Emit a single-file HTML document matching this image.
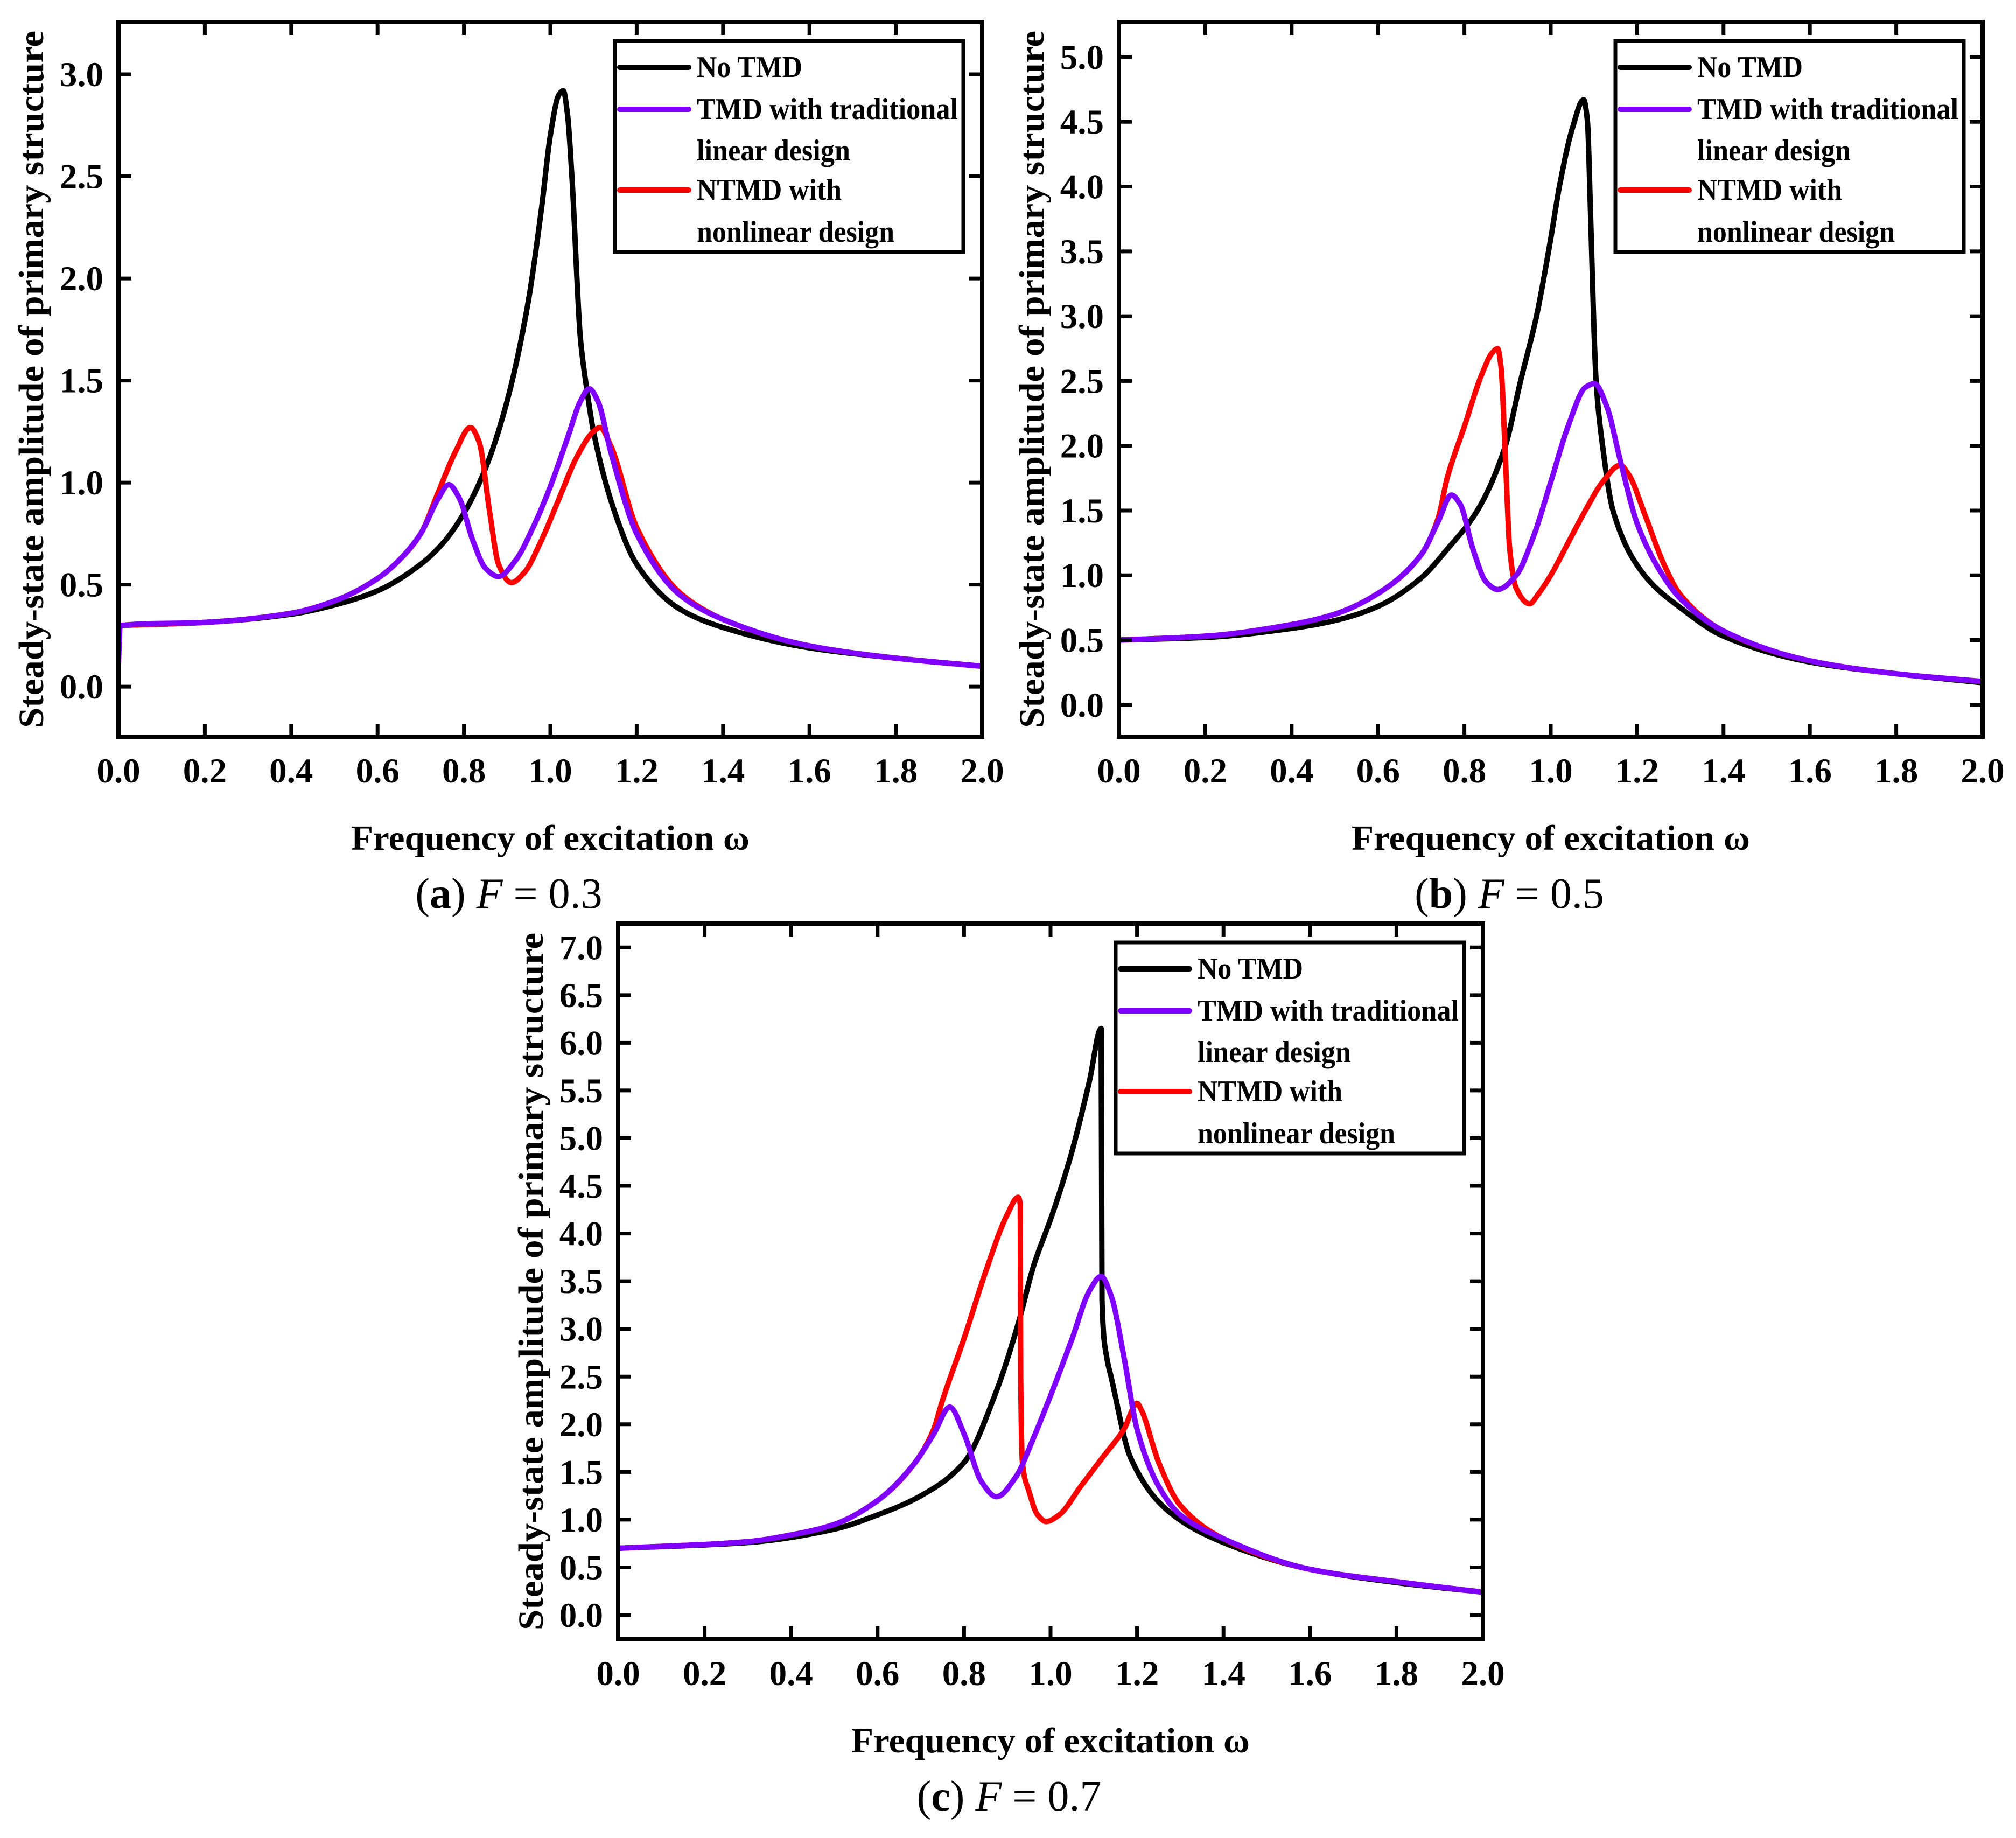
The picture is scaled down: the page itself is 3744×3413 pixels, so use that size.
<!DOCTYPE html>
<html><head><meta charset="utf-8">
<style>
html,body{margin:0;padding:0;background:#fff;}
svg{display:block;}
text{font-family:"Liberation Serif",serif;}
</style></head>
<body>
<svg id="fig" width="3744" height="3413" viewBox="0 0 3744 3413" xmlns="http://www.w3.org/2000/svg"></svg>
<script>
// ---------- Panel (a) F = 0.3 ----------
const aBlackX = [0,0.2,0.4,0.5,0.6,0.7,0.75,0.8,0.85,0.9,0.95,0.98,1.0,1.02,1.03,1.04,1.05,1.07,1.085,1.1,1.15,1.2,1.3,1.4,1.6,1.8,2.0];
const aBlackY = [0.30,0.315,0.355,0.40,0.47,0.60,0.70,0.85,1.07,1.40,1.90,2.35,2.70,2.90,2.92,2.80,2.50,1.70,1.45,1.25,0.85,0.60,0.38,0.29,0.19,0.14,0.10];
const aPurpleX = [0,0.004,0.2,0.4,0.5,0.6,0.65,0.7,0.74,0.765,0.79,0.82,0.85,0.88,0.92,0.96,1.0,1.04,1.07,1.09,1.11,1.14,1.2,1.3,1.4,1.6,1.8,2.0];
const aPurpleY = [0.12,0.30,0.315,0.36,0.42,0.53,0.62,0.75,0.92,0.99,0.92,0.72,0.58,0.54,0.62,0.78,0.98,1.22,1.40,1.46,1.40,1.15,0.75,0.45,0.33,0.20,0.14,0.10];
const aRedX = [0,0.2,0.4,0.5,0.6,0.65,0.7,0.74,0.78,0.815,0.835,0.86,0.88,0.91,0.94,0.98,1.02,1.06,1.1,1.115,1.14,1.2,1.3,1.4,1.6,1.8,2.0];
const aRedY = [0.30,0.315,0.36,0.42,0.53,0.62,0.75,0.95,1.15,1.27,1.20,0.85,0.60,0.51,0.56,0.72,0.92,1.12,1.25,1.27,1.18,0.78,0.46,0.33,0.20,0.14,0.10];
const aYTicks = [0,0.5,1.0,1.5,2.0,2.5,3.0];
const aYLabels = ["0.0","0.5","1.0","1.5","2.0","2.5","3.0"];

// ---------- Panel (b) F = 0.5 ----------
const bBlackX = [0,0.2,0.4,0.5,0.6,0.7,0.76,0.83,0.895,0.93,0.967,1.0,1.02,1.05,1.076,1.085,1.092,1.1,1.105,1.12,1.144,1.217,1.3,1.4,1.6,1.8,2.0];
const bBlackY = [0.50,0.52,0.59,0.65,0.76,0.98,1.20,1.50,2.00,2.50,3.00,3.60,4.00,4.45,4.67,4.50,3.80,2.90,2.50,2.00,1.50,1.00,0.75,0.53,0.33,0.24,0.17];
const bPurpleX = [0,0.2,0.4,0.5,0.6,0.7,0.74,0.77,0.79,0.82,0.85,0.877,0.92,0.96,1.0,1.04,1.08,1.101,1.13,1.16,1.2,1.25,1.3,1.4,1.6,1.8,2.0];
const bPurpleY = [0.50,0.53,0.62,0.70,0.86,1.16,1.42,1.62,1.55,1.20,0.95,0.89,1.00,1.30,1.72,2.15,2.45,2.48,2.30,1.90,1.40,1.05,0.82,0.57,0.34,0.24,0.18];
const bRedX = [0,0.2,0.4,0.5,0.6,0.7,0.74,0.76,0.8,0.84,0.865,0.877,0.885,0.895,0.905,0.92,0.951,0.97,1.0,1.04,1.08,1.12,1.161,1.18,1.22,1.26,1.3,1.4,1.6,1.8,2.0];
const bRedY = [0.50,0.53,0.62,0.70,0.86,1.16,1.45,1.75,2.15,2.55,2.72,2.75,2.60,1.90,1.20,0.90,0.78,0.85,1.00,1.25,1.50,1.72,1.85,1.78,1.45,1.10,0.85,0.57,0.34,0.24,0.18];
const bYTicks = [0,0.5,1.0,1.5,2.0,2.5,3.0,3.5,4.0,4.5,5.0];
const bYLabels = ["0.0","0.5","1.0","1.5","2.0","2.5","3.0","3.5","4.0","4.5","5.0"];

// ---------- Panel (c) F = 0.7 ----------
const cBlackX = [0,0.3,0.5,0.6,0.7,0.8,0.875,0.928,0.96,1.004,1.049,1.09,1.117,1.119,1.13,1.14,1.185,1.275,1.4,1.6,1.8,2.0];
const cBlackY = [0.70,0.76,0.90,1.05,1.25,1.60,2.35,3.10,3.65,4.20,4.85,5.60,6.15,3.30,2.70,2.50,1.65,1.08,0.76,0.48,0.34,0.24];
const cPurpleX = [0,0.3,0.4,0.5,0.6,0.687,0.73,0.767,0.8,0.84,0.875,0.92,0.96,1.0,1.05,1.09,1.117,1.14,1.17,1.2,1.25,1.3,1.4,1.6,1.8,2.0];
const cPurpleY = [0.70,0.77,0.84,0.95,1.20,1.60,1.90,2.18,1.90,1.40,1.24,1.45,1.85,2.30,2.90,3.40,3.55,3.35,2.70,1.95,1.35,1.05,0.80,0.48,0.35,0.24];
const cRedX = [0,0.3,0.4,0.5,0.6,0.687,0.73,0.75,0.8,0.85,0.9,0.925,0.93,0.931,0.935,0.95,0.97,0.99,1.02,1.07,1.12,1.17,1.2,1.21,1.25,1.3,1.4,1.6,1.8,2.0];
const cRedY = [0.70,0.77,0.84,0.95,1.20,1.60,1.95,2.25,2.90,3.60,4.20,4.38,4.30,2.50,1.60,1.30,1.05,0.98,1.05,1.35,1.65,1.95,2.22,2.15,1.60,1.15,0.80,0.48,0.35,0.24];
const cYTicks = [0,0.5,1.0,1.5,2.0,2.5,3.0,3.5,4.0,4.5,5.0,5.5,6.0,6.5,7.0];
const cYLabels = ["0.0","0.5","1.0","1.5","2.0","2.5","3.0","3.5","4.0","4.5","5.0","5.5","6.0","6.5","7.0"];

const xTicks = [0,0.2,0.4,0.6,0.8,1.0,1.2,1.4,1.6,1.8,2.0];
const xLabels = ["0.0","0.2","0.4","0.6","0.8","1.0","1.2","1.4","1.6","1.8","2.0"];
const legendLabels = ["No TMD","TMD with traditional","linear design","NTMD with","nonlinear design"];

const NS = "http://www.w3.org/2000/svg";
const svg = document.getElementById('fig');
function mk(tag, attrs, parent){
  const e = document.createElementNS(NS, tag);
  for (const k in attrs) e.setAttribute(k, attrs[k]);
  (parent||svg).appendChild(e);
  return e;
}

// monotone cubic (Fritsch-Carlson) path through pixel points
function monoPath(px, py){
  const n = px.length;
  const d = [], m = new Array(n);
  for (let i=0;i<n-1;i++) d.push((py[i+1]-py[i])/(px[i+1]-px[i]));
  m[0]=d[0]; m[n-1]=d[n-2];
  for (let i=1;i<n-1;i++){
    if (d[i-1]*d[i] <= 0) m[i]=0;
    else { const w1 = 2*(px[i+1]-px[i])+(px[i]-px[i-1]); const w2=(px[i+1]-px[i])+2*(px[i]-px[i-1]);
      m[i] = (w1+w2)/(w1/d[i-1]+w2/d[i]); }
  }
  let s = 'M'+px[0].toFixed(1)+','+py[0].toFixed(1);
  for (let i=0;i<n-1;i++){
    const h = px[i+1]-px[i];
    s += 'C'+(px[i]+h/3).toFixed(1)+','+(py[i]+m[i]*h/3).toFixed(1)+' '+(px[i+1]-h/3).toFixed(1)+','+(py[i+1]-m[i+1]*h/3).toFixed(1)+' '+px[i+1].toFixed(1)+','+py[i+1].toFixed(1);
  }
  return s;
}

function panel(cfg){
  const g = mk('g', {});
  
  
  const L=cfg.left,R=cfg.right,T=cfg.top,B=cfg.bottom;
  const xs = v => L + (v - 0) / 2 * (R - L);
  const ys = v => B - (v - cfg.ymin) / (cfg.ymax - cfg.ymin) * (B - T);

  const series = [
    {name:'no-tmd-curve', x:cfg.bx, y:cfg.by, c:'#000000'},
    {name:'ntmd-nonlinear-curve', x:cfg.rx, y:cfg.ry, c:'#ff0000'},
    {name:'tmd-linear-curve', x:cfg.px, y:cfg.py, c:'#8000ff'}
  ];
  const clipId = cfg.id + '-clip';
  const cp = mk('clipPath', {id:clipId}, g);
  mk('rect', {x:L, y:T, width:R-L, height:B-T}, cp);
  series.forEach(s=>{
    const d = monoPath(s.x.map(xs), s.y.map(ys));
    const p = mk('path', {d:d, fill:'none', stroke:s.c, 'stroke-width':10, 'stroke-linejoin':'round', 'stroke-linecap':'round', 'clip-path':'url(#'+clipId+')'}, g);
    
    
  });

  const fr = mk('rect', {x:L, y:T, width:R-L, height:B-T, fill:'none', stroke:'#000', 'stroke-width':8}, g);
  
  

  xTicks.forEach((t,i)=>{
    const x = xs(t);
    mk('line', {x1:x, y1:B, x2:x, y2:B-24, stroke:'#000', 'stroke-width':7}, g);
    mk('line', {x1:x, y1:T, x2:x, y2:T+24, stroke:'#000', 'stroke-width':7}, g);
    const tx = mk('text', {x:x, y:B+85, 'text-anchor':'middle', 'font-size':65, 'font-weight':'bold'}, g);
    tx.textContent = xLabels[i];
    
    
  });
  cfg.yt.forEach((t,i)=>{
    const y = ys(t);
    mk('line', {x1:L, y1:y, x2:L+24, y2:y, stroke:'#000', 'stroke-width':7}, g);
    mk('line', {x1:R, y1:y, x2:R-24, y2:y, stroke:'#000', 'stroke-width':7}, g);
    const ty = mk('text', {x:L-28, y:y+22, 'text-anchor':'end', 'font-size':65, 'font-weight':'bold'}, g);
    ty.textContent = cfg.yl[i];
    
    
  });

  const cx = (L+R)/2;
  const xt = mk('text', {x:cx, y:B+210, 'text-anchor':'middle', 'font-size':66, 'font-weight':'bold', textLength:740, lengthAdjust:'spacingAndGlyphs'}, g);
  xt.textContent = 'Frequency of excitation \u03C9';
  
  
  const cy = (T+B)/2;
  const yt = mk('text', {x:0, y:0, 'text-anchor':'middle', 'font-size':66, 'font-weight':'bold', textLength:1295, lengthAdjust:'spacingAndGlyphs', transform:'translate('+(L-140)+','+cy+') rotate(-90)'}, g);
  yt.textContent = 'Steady-state amplitude of primary structure';
  
  

  const cap = mk('text', {x:cx-77, y:B+318, 'text-anchor':'middle', 'font-size':80}, g);
  
  
  const t1 = mk('tspan', {}, cap); t1.textContent = '(';
  const t2 = mk('tspan', {'font-weight':'bold'}, cap); t2.textContent = cfg.letter;
  const t3 = mk('tspan', {}, cap); t3.textContent = ') ';
  const t4 = mk('tspan', {'font-style':'italic'}, cap); t4.textContent = 'F';
  const t5 = mk('tspan', {}, cap); t5.textContent = ' = ' + cfg.fval;

  const lx = R - 35 - 647, ly = T + 35;
  const lg = mk('g', {}, g);
  
  
  mk('rect', {x:lx, y:ly, width:647, height:392, fill:'#fff', stroke:'#000', 'stroke-width':7}, lg);
  const rows = [{dy:49,c:'#000000'},{dy:127,c:'#8000ff'},{dy:277,c:'#ff0000'}];
  rows.forEach(r=>{
    mk('line', {x1:lx+9, y1:ly+r.dy, x2:lx+137, y2:ly+r.dy, stroke:r.c, 'stroke-width':10, 'stroke-linecap':'round'}, lg);
  });
  const textRows = [{dy:49,w:196},{dy:127,w:485},{dy:204,w:285},{dy:277,w:269},{dy:355,w:367}];
  textRows.forEach((r,i)=>{
    const t = mk('text', {x:lx+152, y:ly+r.dy+18, 'font-size':56, 'font-weight':'bold', textLength:r.w, lengthAdjust:'spacingAndGlyphs'}, lg);
    t.textContent = legendLabels[i];
    
    
  });
}

panel({id:'panel-a', letter:'a', fval:'0.3', left:220, right:1824, top:41, bottom:1368, ymin:-0.245, ymax:3.256,
  bx:aBlackX, by:aBlackY, px:aPurpleX, py:aPurpleY, rx:aRedX, ry:aRedY, yt:aYTicks, yl:aYLabels});
panel({id:'panel-b', letter:'b', fval:'0.5', left:2078, right:3682, top:41, bottom:1368, ymin:-0.246, ymax:5.27,
  bx:bBlackX, by:bBlackY, px:bPurpleX, py:bPurpleY, rx:bRedX, ry:bRedY, yt:bYTicks, yl:bYLabels});
panel({id:'panel-c', letter:'c', fval:'0.7', left:1148, right:2754, top:1715, bottom:3044, ymin:-0.254, ymax:7.25,
  bx:cBlackX, by:cBlackY, px:cPurpleX, py:cPurpleY, rx:cRedX, ry:cRedY, yt:cYTicks, yl:cYLabels});
</script>
</body></html>
